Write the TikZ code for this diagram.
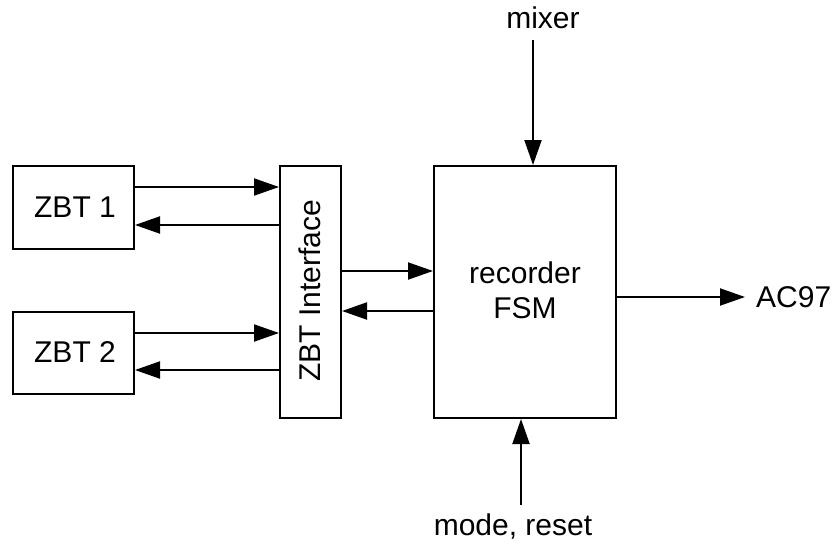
\documentclass[tikz,border=0pt]{standalone}
\usepackage{fontspec}
\setmainfont{Liberation Sans}
\usetikzlibrary{arrows.meta}
\begin{document}
\begin{tikzpicture}[x=1pt,y=-1pt,
  blk/.style={draw=black,line width=2pt,inner sep=0pt,anchor=north west},
  lbl/.style={inner sep=0pt,font=\fontsize{30}{35}\selectfont},
  arr/.style={line width=2pt,-{Triangle[length=25pt,width=17pt]}}]
\useasboundingbox (0,0) rectangle (832,544);
% boxes
\node[blk,minimum width=121pt,minimum height=83pt] (zbt1) at (12,165) {};
\node[lbl] at (75,207) {ZBT 1};
\node[blk,minimum width=121pt,minimum height=82pt] (zbt2) at (12,311) {};
\node[lbl] at (75,352) {ZBT 2};
\node[blk,minimum width=61pt,minimum height=252pt] (zif) at (279,165) {};
\node[lbl,rotate=90] at (310,291) {ZBT Interface};
\node[blk,minimum width=182pt,minimum height=252pt] (fsm) at (433,165) {};
\node[lbl,align=center] at (525,290) {recorder\\FSM};
% external labels
\node[lbl] (mixer) at (543,18) {mixer};
\node[lbl] (mode) at (513,527) {mode, reset};
\node[lbl,anchor=west] (ac97) at (756,297) {AC97};
\coordinate (mixtop) at (533,40);
\coordinate (modebot) at (521,505);
% connectors
\draw[arr] (zbt1.east |- 0,187) -- (zif.west |- 0,187);
\draw[arr] (zif.west |- 0,225) -- (zbt1.east |- 0,225);
\draw[arr] (zbt2.east |- 0,333) -- (zif.west |- 0,333);
\draw[arr] (zif.west |- 0,370) -- (zbt2.east |- 0,370);
\draw[arr] (zif.east |- 0,271) -- (fsm.west |- 0,271);
\draw[arr] (fsm.west |- 0,311) -- (zif.east |- 0,311);
\draw[arr] (mixtop) -- (mixtop |- fsm.north);
\draw[arr] (modebot) -- (modebot |- fsm.south);
\draw[arr] (fsm.east |- 0,297) -- (745,297);
\end{tikzpicture}
\end{document}
